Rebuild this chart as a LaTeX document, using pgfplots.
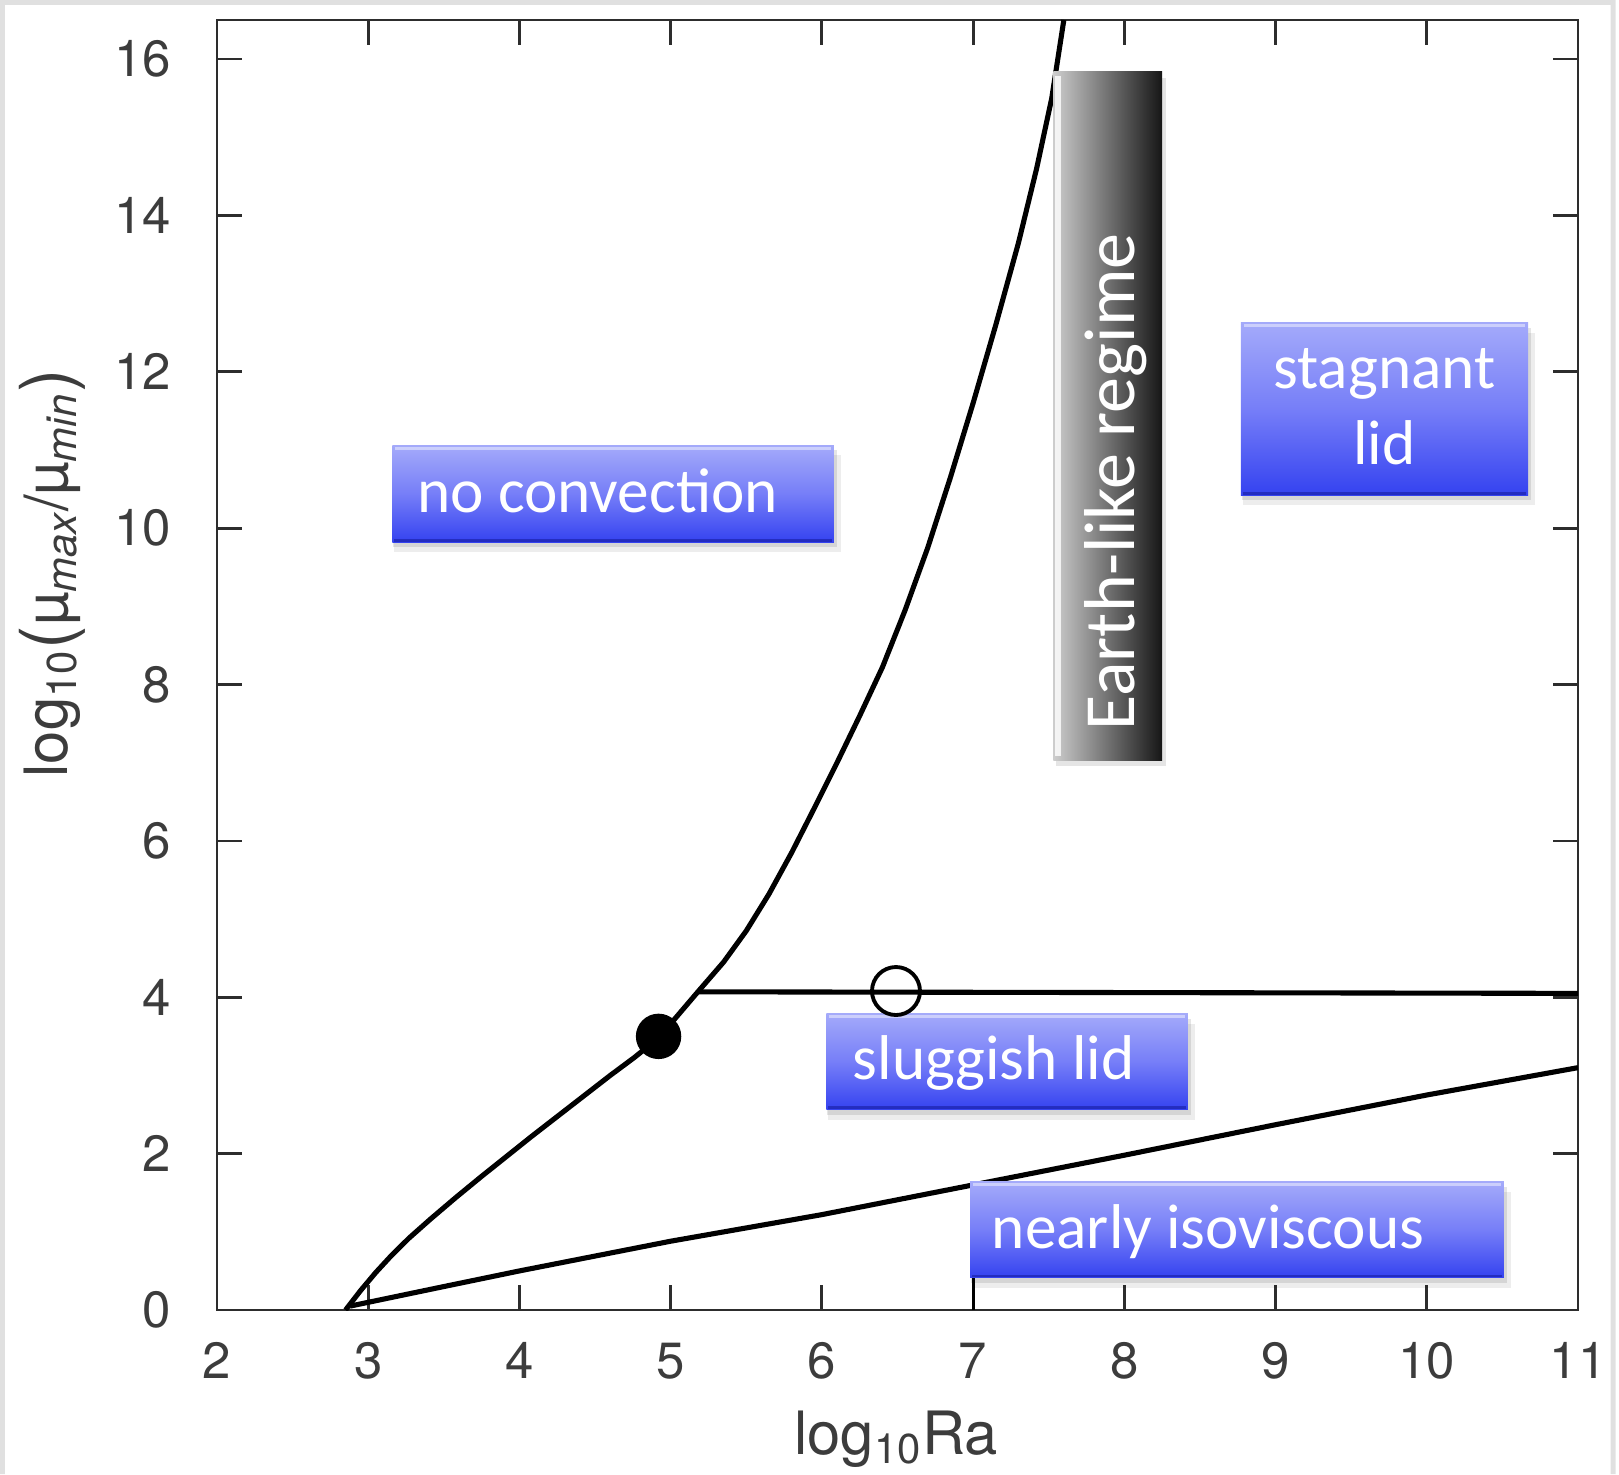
\documentclass[border=0pt]{standalone}
\usepackage{fontspec}
\setmainfont{TeX Gyre Heros}
\newfontfamily\calibri{Carlito}
\usepackage{pgfplots}
\pgfplotsset{compat=1.18}
\usetikzlibrary{calc}

\definecolor{axgray}{RGB}{45,45,45}
\definecolor{labgray}{RGB}{60,60,60}
\definecolor{boxtop}{RGB}{164,170,250}
\definecolor{boxmid}{RGB}{118,126,248}
\definecolor{boxbot}{RGB}{52,66,240}
\definecolor{earthL}{RGB}{205,205,205}
\definecolor{earthR}{RGB}{22,22,22}

% blue label box: x1, y1 (bottom), x2, y2 (top)
\newcommand{\bluebox}[4]{%
  \fill[black, opacity=0.07] ($(axis cs:#1,#2)+(0.02cm,-0.10cm)$) rectangle ($(axis cs:#3,#4)+(0.07cm,-0.10cm)$);
  \fill[black, opacity=0.10] ($(axis cs:#1,#2)+(0.01cm,-0.05cm)$) rectangle ($(axis cs:#3,#4)+(0.03cm,-0.05cm)$);
  \shade[top color=boxtop, bottom color=boxbot, middle color=boxmid] (axis cs:#1,#2) rectangle (axis cs:#3,#4);
  \draw[white, opacity=0.45, line width=0.8pt] ($(axis cs:#1,#4)+(0.03cm,-0.03cm)$) -- ($(axis cs:#3,#4)+(-0.03cm,-0.03cm)$);
  \draw[blue!40!black, opacity=0.35, line width=0.8pt] ($(axis cs:#1,#2)+(0.02cm,0.02cm)$) -- ($(axis cs:#3,#2)+(-0.02cm,0.02cm)$);
}
\newcommand{\boxfont}{\calibri\fontsize{18}{21}\selectfont}
\newcommand{\bigparen}[1]{{\fontsize{20}{20}\selectfont\raisebox{-0.04em}{#1}}}

\begin{document}
\begin{tikzpicture}
\begin{axis}[
  scale only axis, width=13.61cm, height=12.90cm,
  xmin=2, xmax=11, ymin=0, ymax=16.5,
  xtick={2,...,11}, ytick={0,2,...,16},
  tick align=inside, major tick length=0.25cm,
  axis line style={line width=0.8pt, draw=axgray},
  every tick/.style={line width=0.8pt, axgray},
  tick label style={font=\fontsize{14.5}{17}\selectfont, text=labgray},
  /pgf/number format/assume math mode=true,
  xticklabel style={anchor=north, inner sep=0pt, yshift=-0.32cm},
  yticklabel style={anchor=east, inner sep=0pt, xshift=-0.45cm},
  xlabel={log\textsubscript{10}Ra},
  ylabel={log\textsubscript{10}\bigparen{(}µ\textsubscript{\itshape max}/µ\textsubscript{\itshape min}\bigparen{)}},
  label style={font=\fontsize{17}{20}\selectfont, text=labgray},
  xlabel style={at={(axis description cs:0.499,-0.1)}, anchor=center},
  ylabel style={at={(axis description cs:-0.121,0.571)}, anchor=center},
]
% onset of convection / stagnant-lid boundary
\addplot[black, line width=1.45pt, line join=round] coordinates {
(2.85,0.00) (2.95,0.25) (3.05,0.48) (3.15,0.69) (3.27,0.92) (3.41,1.16)
(3.58,1.44) (3.75,1.71) (4.08,2.22) (4.42,2.73) (4.60,3.00) (4.76,3.23)
(4.92,3.48) (5.18,4.07) (5.35,4.45) (5.50,4.85) (5.65,5.32) (5.80,5.85)
(5.95,6.42) (6.10,7.00) (6.25,7.60) (6.40,8.22) (6.55,8.95) (6.70,9.75)
(6.85,10.65) (7.00,11.60) (7.15,12.60) (7.30,13.65) (7.42,14.60) (7.52,15.50)
(7.60,16.50)};
% isoviscous boundary
\addplot[black, line width=1.45pt, line join=round] coordinates {
(2.88,0.05) (3.50,0.30) (4.00,0.50) (5.00,0.88) (6.00,1.22) (7.00,1.60)
(8.00,1.98) (9.00,2.37) (10.00,2.75) (11.00,3.10)};
% sluggish / stagnant boundary
\addplot[black, line width=1.45pt] coordinates {(5.18,4.07) (11.00,4.05)};
% short vertical segment at x=7
\addplot[black, line width=0.8pt] coordinates {(7,0) (7,0.42)};
% points
\addplot[only marks, mark=*, mark size=0.22cm, black] coordinates {(4.92,3.50)};
\addplot[only marks, mark=o, mark size=0.24cm, black, line width=1.1pt] coordinates {(6.49,4.08)};

% Earth-like regime box
\fill[black, opacity=0.10] ($(axis cs:7.53,7.03)+(0.03cm,-0.06cm)$) rectangle ($(axis cs:8.25,15.84)+(0.04cm,-0.06cm)$);
\shade[left color=earthL, right color=earthR] (axis cs:7.53,7.03) rectangle (axis cs:8.25,15.84);
\draw[white, opacity=0.8, line width=1.6pt] ($(axis cs:7.53,7.03)+(0.05cm,0.04cm)$) -- ($(axis cs:7.53,15.84)+(0.05cm,-0.04cm)$);
\node[rotate=90, anchor=base west, inner sep=0pt, text=white, font=\calibri\fontsize{20.5}{24}\selectfont] at (axis cs:8.07,7.40) {Earth-like regime};

% blue boxes
\bluebox{3.16}{9.82}{6.08}{11.06}
\node[anchor=base west, inner sep=0pt, text=white, font=\boxfont] at (axis cs:3.32,10.20) {no convection};

\bluebox{8.77}{10.42}{10.67}{12.63}
\node[anchor=base, inner sep=0pt, text=white, font=\boxfont] at (axis cs:9.72,11.79) {stagnant};
\node[anchor=base, inner sep=0pt, text=white, font=\boxfont] at (axis cs:9.72,10.82) {lid};

\bluebox{6.03}{2.56}{8.42}{3.79}
\node[anchor=base west, inner sep=0pt, text=white, font=\boxfont] at (axis cs:6.20,2.95) {sluggish lid};

\bluebox{6.98}{0.41}{10.51}{1.64}
\node[anchor=base west, inner sep=0pt, text=white, font=\boxfont] at (axis cs:7.12,0.79) {nearly isoviscous};

\coordinate (SW) at (rel axis cs:0,0);
\coordinate (NE) at (rel axis cs:1,1);
\end{axis}
\pgfresetboundingbox
\path[use as bounding box] ($(SW)+(-2.17,-1.64)$) rectangle ($(NE)+(0.41,0.20)$);
\draw[black!12, line width=0.05cm] ($(SW)+(-2.145,-1.64)$) -- ($(SW)+(-2.145,13.075)$) -- ($(NE)+(0.35,0.175)$) -- ($(NE)+(0.35,-14.54)$);
\end{tikzpicture}
\end{document}
